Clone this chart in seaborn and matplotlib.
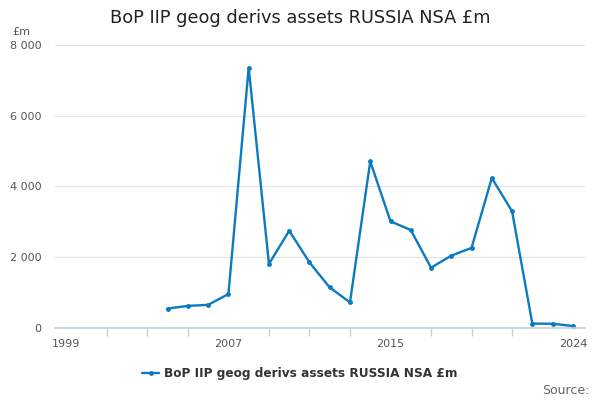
import matplotlib
matplotlib.use("Agg")
import matplotlib.pyplot as plt
import matplotlib.ticker as mticker
import seaborn as sns
import pandas as pd

# Values (£m)
years = [2004, 2005, 2006, 2007, 2008, 2009, 2010, 2011, 2012, 2013, 2014,
         2015, 2016, 2017, 2018, 2019, 2020, 2021, 2022, 2023, 2024]
values = [550, 625, 655, 960, 7360, 1810, 2750, 1855, 1145, 725, 4710,
          3015, 2770, 1705, 2045, 2265, 4240, 3300, 125, 120, 57]
series_name = "BoP IIP geog derivs assets RUSSIA NSA £m"
x_labels = [1999, 2007, 2015, 2024]
x_minor = [2001, 2003, 2005, 2009, 2011, 2013, 2017, 2019, 2021]
y_ticks = [0, 2000, 4000, 6000, 8000]

df = pd.DataFrame({"year": years, "value": values})

sns.set_theme(style="white")
plt.rcParams['font.family'] = ['DejaVu Sans']

line_color = "#0b7bc1"
axis_color = "#c3d0e2"

fig = plt.figure(figsize=(6, 4), dpi=100)
ax = fig.add_axes([0.092, 0.18, 0.883, 0.7075])

sns.lineplot(data=df, x="year", y="value", ax=ax, color=line_color,
             linewidth=1.7, marker="o", markersize=3.5,
             markeredgewidth=0, label=series_name)

ax.set_xlim(1998.45, 2024.6)
ax.set_ylim(0, 8000)

# y axis: gridlines only, space thousands separator
ax.set_yticks(y_ticks)
ax.yaxis.set_major_formatter(mticker.FuncFormatter(lambda v, p: f"{int(v):,}".replace(",", " ")))
ax.grid(axis="y", color="#e3e3e3", linewidth=0.9)
ax.tick_params(axis="y", length=0, pad=10, labelsize=8, labelcolor="#555555")

# x axis: labelled ticks plus unlabelled ticks every two years
ax.set_xticks(x_labels)
ax.set_xticks(x_minor, minor=True)
ax.tick_params(axis="x", which="both", length=6, width=1, color=axis_color,
               pad=2, labelsize=8, labelcolor="#555555", direction="out")
ax.tick_params(axis="x", which="minor", bottom=True)

for side in ["top", "right", "left"]:
    ax.spines[side].set_visible(False)
ax.spines["bottom"].set_color(axis_color)
ax.spines["bottom"].set_linewidth(1.2)

ax.set_xlabel("")
ax.set_ylabel("")

fig.text(0.5, 0.955, series_name, ha="center", va="center", fontsize=12.8, color="#222222")
fig.text(0.02, 0.92, "£m", ha="left", va="center", fontsize=8, color="#555555")

leg = ax.legend(loc="center", bbox_to_anchor=(0.5, 0.065), bbox_transform=fig.transFigure,
                frameon=False, handlelength=1.4, handletextpad=0.4,
                prop={"weight": "bold", "size": 8.7})
for t in leg.get_texts():
    t.set_color("#333333")

fig.text(0.982, 0.025, "Source:", ha="right", va="center", fontsize=9, color="#666666")

fig.savefig("out.png", dpi=100)
